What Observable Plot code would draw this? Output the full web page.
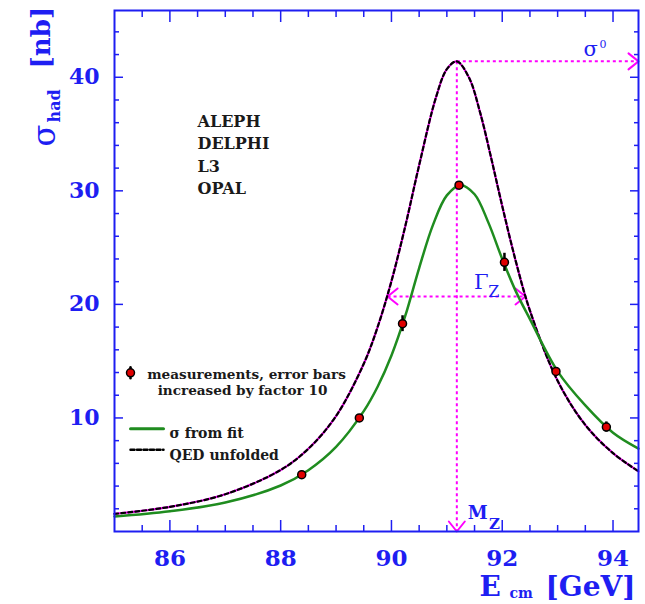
<!DOCTYPE html>
<html><head><meta charset="utf-8">
<script src="https://cdn.jsdelivr.net/npm/d3@7"></script>
<script src="https://cdn.jsdelivr.net/npm/@observablehq/plot@0.6"></script>
<style>body{margin:0;background:#fff}</style>
</head><body><div id="chart"></div>
<script>
// QED-unfolded lineshape
const energyUnfolded = [85, 86, 87, 88, 88.5, 89, 89.5, 89.75, 90, 90.25, 90.5, 90.8, 91, 91.18, 91.4, 91.6, 91.8, 92, 92.25, 92.5, 93, 93.5, 94, 94.46];
const sigmaUnfolded  = [1.55, 2.17, 3.28, 5.42, 7.29, 10.17, 14.77, 18.0, 22.05, 26.9, 32.26, 38.17, 40.71, 41.4, 39.97, 36.91, 32.9, 28.66, 23.7, 19.45, 13.27, 9.38, 6.90, 5.30];
// fitted cross section (green)
const energyFit = [85, 86, 87, 88, 88.5, 89, 89.5, 89.75, 90, 90.25, 90.5, 90.75, 91, 91.25, 91.5, 91.75, 92, 92.25, 92.5, 93, 93.5, 94, 94.46];
const sigmaFit  = [1.32, 1.78, 2.55, 4.05, 5.4, 7.45, 10.6, 12.75, 15.5, 19.0, 23.2, 27.0, 29.6, 30.5, 29.7, 27.2, 24.0, 21.1, 18.7, 14.1, 11.1, 8.7, 7.3];
// measurements (error bars x10)
const measEnergy = [88.38, 89.42, 90.20, 91.22, 92.04, 92.97, 93.88];
const measSigma  = [5.0, 10.0, 18.3, 30.5, 23.7, 14.1, 9.2];
const measError  = [0.25, 0.25, 0.7, 0.2, 0.8, 0.3, 0.45];
// annotation values
const MZ = 91.18, sigma0 = 41.4, halfMax = 20.7, gammaLow = 89.93, gammaHigh = 92.42;
const xDomain = [85, 94.46], yDomain = [0, 45.88];
// ticks
const xMajorTicks = [86, 88, 90, 92, 94];
const xMinorTicks = [85.5, 86.5, 87, 87.5, 88.5, 89, 89.5, 90.5, 91, 91.5, 92.5, 93, 93.5];
const yMajorTicks = [10, 20, 30, 40];
const yMinorTicks = [2, 4, 6, 8, 12, 14, 16, 18, 22, 24, 26, 28, 32, 34, 36, 38, 42, 44];
const experiments = ["ALEPH", "DELPHI", "L3", "OPAL"];

const blue = "#1e1ef2", magenta = "#ff00ff", green = "#1f8c1f", red = "#e00000";
const serif = "DejaVu Serif";
const chevron = {draw(ctx) { ctx.moveTo(-8, 10); ctx.lineTo(0, 0); ctx.lineTo(8, 10); }};
const stroke = {draw(ctx, l) { ctx.moveTo(0, 0); ctx.lineTo(0, -l); }};
const noText = () => "";
const tickText = {fontFamily: serif, fontWeight: "bold", color: blue, strokeWidth: 1.5};
const legendText = {frameAnchor: "top-left", textAnchor: "start", fontWeight: "bold", fill: "#1a1a1a"};

const chart = Plot.plot({
  width: 645, height: 604,
  marginLeft: 114, marginRight: 7, marginTop: 10, marginBottom: 73,
  style: {background: "white", fontFamily: serif, color: blue, overflow: "hidden"},
  x: {domain: xDomain, label: null},
  y: {domain: yDomain, label: null},
  marks: [
    // dotted magenta construction lines
    Plot.link([0], {x1: [MZ], y1: [sigma0], x2: [xDomain[1]], y2: [sigma0], stroke: magenta, strokeWidth: 2, strokeDasharray: "3,3"}),
    Plot.link([0], {x1: [MZ], y1: [sigma0], x2: [MZ], y2: [0], stroke: magenta, strokeWidth: 2, strokeDasharray: "3,3"}),
    Plot.link([0], {x1: [gammaLow], y1: [halfMax], x2: [gammaHigh], y2: [halfMax], stroke: magenta, strokeWidth: 2, strokeDasharray: "3,3"}),
    Plot.vector([0, 1, 2, 3], {x: [xDomain[1], MZ, gammaLow, gammaHigh], y: [sigma0, 0, halfMax, halfMax], rotate: [90, 180, -90, 90], length: 10, anchor: "start", shape: chevron, stroke: magenta, strokeWidth: 2}),
    // curves
    Plot.line(sigmaUnfolded, {x: energyUnfolded, y: sigmaUnfolded, curve: "catmull-rom", stroke: magenta, strokeWidth: 2.2}),
    Plot.line(sigmaUnfolded, {x: energyUnfolded, y: sigmaUnfolded, curve: "catmull-rom", stroke: "black", strokeWidth: 2.2, strokeDasharray: "4,3"}),
    Plot.line(sigmaFit, {x: energyFit, y: sigmaFit, curve: "catmull-rom", stroke: green, strokeWidth: 2.5}),
    // measurements
    Plot.ruleX(measSigma, {x: measEnergy, y1: measSigma.map((s, i) => s - measError[i]), y2: measSigma.map((s, i) => s + measError[i]), stroke: "black", strokeWidth: 2.5}),
    Plot.dot(measSigma, {x: measEnergy, y: measSigma, r: 4, fill: red, stroke: "black", strokeWidth: 1.5}),
    // frame and axes
    Plot.frame({stroke: blue, strokeWidth: 2}),
    Plot.axisX(xMajorTicks, {anchor: "bottom", tickSize: -11, tickPadding: 29, fontSize: 23, ...tickText, label: null}),
    Plot.axisX(xMinorTicks, {anchor: "bottom", tickSize: -6, tickFormat: noText, ...tickText, label: null}),
    Plot.axisX(xMajorTicks, {anchor: "top", tickSize: -11, tickFormat: noText, ...tickText, label: null}),
    Plot.axisX(xMinorTicks, {anchor: "top", tickSize: -6, tickFormat: noText, ...tickText, label: null}),
    Plot.axisY(yMajorTicks, {anchor: "left", tickSize: -9, tickPadding: 24, fontSize: 22, ...tickText, label: null}),
    Plot.axisY(yMinorTicks, {anchor: "left", tickSize: -5, tickFormat: noText, ...tickText, label: null}),
    Plot.axisY(yMajorTicks, {anchor: "right", tickSize: -9, tickFormat: noText, ...tickText, label: null}),
    Plot.axisY(yMinorTicks, {anchor: "right", tickSize: -5, tickFormat: noText, ...tickText, label: null}),
    // experiments
    Plot.text([experiments.join("\n")], {text: d => d, frameAnchor: "top-left", dx: 83, dy: 100.3, textAnchor: "start", lineAnchor: "top", lineHeight: 1.406, fontSize: 16, fontWeight: "bold", fill: "#1a1a1a"}),
    // legend
    Plot.vector([0], {frameAnchor: "top-left", dx: 16, dy: 362.3, length: 11, anchor: "middle", shape: stroke, stroke: "black", strokeWidth: 2.5}),
    Plot.dot([0], {frameAnchor: "top-left", dx: 16, dy: 362.3, r: 4, fill: red, stroke: "black", strokeWidth: 1.5}),
    Plot.text(["measurements, error bars"], {text: d => d, ...legendText, textAnchor: "middle", dx: 132, dy: 359.3, fontSize: 13.6}),
    Plot.text(["increased by factor 10"], {text: d => d, ...legendText, textAnchor: "middle", dx: 128, dy: 374.6, fontSize: 13.6}),
    Plot.vector([0], {frameAnchor: "top-left", dx: 16, dy: 418.3, length: 33, rotate: 90, anchor: "start", shape: stroke, stroke: green, strokeWidth: 3}),
    Plot.vector([0], {frameAnchor: "top-left", dx: 16, dy: 439.3, length: 33, rotate: 90, anchor: "start", shape: stroke, stroke: "black", strokeWidth: 2.5, strokeDasharray: "4,2.5"}),
    Plot.text(["σ from fit"], {text: d => d, ...legendText, dx: 55, dy: 417.2, fontSize: 14}),
    Plot.text(["QED unfolded"], {text: d => d, ...legendText, dx: 55, dy: 439.5, fontSize: 14}),
    // annotation labels
    Plot.text(["σ"], {text: d => d, x: [xDomain[1]], y: [sigma0], dx: -55, dy: -12.4, textAnchor: "start", fontSize: 21, fill: blue}),
    Plot.text(["0"], {text: d => d, x: [xDomain[1]], y: [sigma0], dx: -39, dy: -17.2, textAnchor: "start", fontSize: 11, fill: blue}),
    Plot.text(["Γ"], {text: d => d, x: [MZ], y: [halfMax], dx: 17.3, dy: -14.4, textAnchor: "start", fontSize: 21, fill: blue}),
    Plot.text(["Z"], {text: d => d, x: [MZ], y: [halfMax], dx: 31.5, dy: -4.1, textAnchor: "start", fontSize: 16, fill: blue}),
    Plot.text(["M"], {text: d => d, x: [MZ], y: [0], dx: 11, dy: -18.2, textAnchor: "start", fontSize: 18, fontWeight: "bold", fill: blue}),
    Plot.text(["Z"], {text: d => d, x: [MZ], y: [0], dx: 32.3, dy: -7.2, textAnchor: "start", fontSize: 15, fontWeight: "bold", fill: blue}),
    // axis titles
    Plot.text(["E"], {text: d => d, frameAnchor: "bottom-left", dx: 365, dy: 64.5, textAnchor: "start", fontSize: 28, fontWeight: "bold", fill: blue}),
    Plot.text(["cm"], {text: d => d, frameAnchor: "bottom-left", dx: 395, dy: 66.5, textAnchor: "start", fontSize: 14, fontWeight: "bold", fill: blue}),
    Plot.text(["[GeV]"], {text: d => d, frameAnchor: "bottom-left", dx: 431, dy: 64.5, textAnchor: "start", fontSize: 28, fontWeight: "bold", fill: blue}),
    Plot.text(["σ"], {text: d => d, frameAnchor: "top-left", dx: -82.2, dy: 136, rotate: -90, textAnchor: "start", fontSize: 32, fill: blue}),
    Plot.text(["had"], {text: d => d, frameAnchor: "top-left", dx: -66.1, dy: 112, rotate: -90, textAnchor: "start", fontSize: 16, fontWeight: "bold", fill: blue}),
    Plot.text(["[nb]"], {text: d => d, frameAnchor: "top-left", dx: -82.7, dy: 58, rotate: -90, textAnchor: "start", fontSize: 26, fontWeight: "bold", fill: blue})
  ]
});
document.getElementById("chart").append(chart);
</script></body></html>
